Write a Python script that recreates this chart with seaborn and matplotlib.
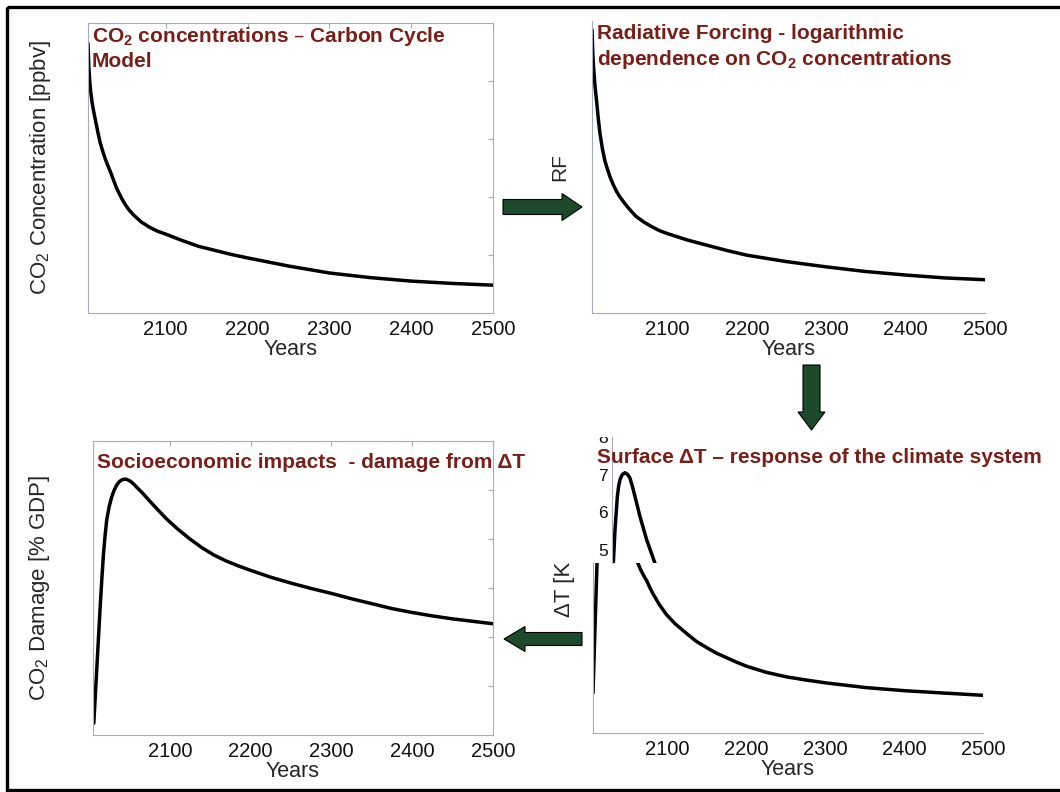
import matplotlib
matplotlib.use("Agg")
import matplotlib.pyplot as plt
import matplotlib.patches as mpatches
from matplotlib.transforms import Affine2D, Bbox, TransformedBbox
import seaborn as sns

# --- data ---
co2_years = [2005, 2006, 2007, 2008, 2010, 2012, 2014, 2017, 2020, 2023, 2026, 2029,
             2032, 2036, 2040, 2046, 2050, 2055, 2060, 2070, 2080, 2090, 2100, 2120,
             2140, 2160, 2180, 2200, 2225, 2250, 2275, 2300, 2350, 2400, 2450, 2500]
co2_vals = [4.65, 4.25, 4.02, 3.85, 3.63, 3.47, 3.33, 3.12, 2.93, 2.79, 2.66, 2.55,
            2.45, 2.30, 2.15, 1.98, 1.88, 1.78, 1.70, 1.57, 1.48, 1.41, 1.36, 1.25,
            1.15, 1.08, 1.01, 0.95, 0.88, 0.81, 0.75, 0.69, 0.61, 0.55, 0.51, 0.48]

rf_years = [2005, 2006, 2007, 2009, 2011, 2013, 2015, 2018, 2021, 2024, 2028, 2032,
            2036, 2040, 2046, 2052, 2060, 2070, 2080, 2090, 2100, 2125, 2150, 2175,
            2200, 2250, 2300, 2350, 2400, 2450, 2500]
rf_vals = [4.85, 4.45, 4.20, 3.86, 3.60, 3.32, 3.08, 2.82, 2.62, 2.48, 2.32, 2.19,
           2.08, 1.99, 1.88, 1.78, 1.66, 1.56, 1.48, 1.41, 1.36, 1.25, 1.16, 1.07,
           0.99, 0.88, 0.79, 0.71, 0.65, 0.60, 0.57]

# surface temperature: early rise, later decline (lower box) and the peak (inset)
dt_rise_years = [2006, 2008, 2010, 2012]
dt_rise_vals = [1.05, 1.72, 2.38, 3.05]
dt_fall_years = [2062, 2066, 2070, 2074, 2078, 2082, 2090, 2099, 2110, 2125, 2137,
                 2150, 2162, 2175, 2188, 2200, 2225, 2251, 2275, 2302, 2327, 2352,
                 2376, 2401, 2425, 2449, 2475, 2500]
dt_fall_vals = [2.76, 2.66, 2.58, 2.51, 2.42, 2.34, 2.20, 2.07, 1.95, 1.82, 1.72,
                1.64, 1.57, 1.51, 1.45, 1.40, 1.32, 1.26, 1.22, 1.18, 1.15, 1.12,
                1.10, 1.08, 1.065, 1.05, 1.035, 1.02]
dt_peak_years = [2031.7, 2033.8, 2036.8, 2038.5, 2040.2, 2043.0, 2046.5, 2050.0,
                 2052.8, 2056.0, 2059.2, 2065.5, 2074.0, 2084.5]
dt_peak_vals = [4.65, 5.53, 6.42, 6.70, 6.87, 7.00, 7.05, 7.00, 6.91, 6.68, 6.42,
                5.89, 5.27, 4.65]
dt_peak_ticks = [5, 6, 7, 8]

dmg_years = [2006, 2007, 2008, 2010, 2012, 2014, 2016, 2018, 2020, 2022, 2025, 2028,
             2031, 2034, 2037, 2040, 2043, 2046, 2049, 2052, 2056, 2060, 2065, 2070,
             2076, 2085, 2096, 2110, 2125, 2140, 2155, 2170, 2185, 2200, 2225, 2250,
             2275, 2300, 2325, 2350, 2375, 2400, 2425, 2450, 2475, 2500]
dmg_vals = [0.24, 0.55, 0.85, 1.45, 2.05, 2.65, 3.20, 3.70, 4.08, 4.39, 4.66, 4.85,
            4.99, 5.09, 5.16, 5.20, 5.22, 5.22, 5.20, 5.17, 5.11, 5.04, 4.96, 4.87,
            4.76, 4.60, 4.41, 4.20, 4.00, 3.82, 3.67, 3.55, 3.45, 3.36, 3.22, 3.10,
            2.99, 2.89, 2.78, 2.68, 2.58, 2.50, 2.43, 2.37, 2.32, 2.27]

year_ticks = [2100, 2200, 2300, 2400, 2500]

# --- style ---
W, H = 1060, 792
TITLE_COLOR = "#7a1e18"
SPINE_COLOR = "#a3abbd"
ARROW_COLOR = "#1e4a2c"
LINE_W = 2.5

sns.set_style("white")
plt.rcParams["font.family"] = ["Liberation Sans", "DejaVu Sans"]
plt.rcParams["mathtext.default"] = "regular"

fig = plt.figure(figsize=(W / 100, H / 100), dpi=100)
fig.patch.set_facecolor("white")
# pixel coordinates measured from the top-left corner
PX = Affine2D().scale(1, -1).translate(0, H).scale(1 / W, 1 / H) + fig.transFigure


def px_axes(x0, y0, x1, y1):
    return fig.add_axes([x0 / W, 1 - y1 / H, (x1 - x0) / W, (y1 - y0) / H])


def px_clip(x0, y0, x1, y1):
    # clip box given in top-left pixel coordinates
    return TransformedBbox(Bbox.from_extents(x0 / W, 1 - y1 / H, x1 / W, 1 - y0 / H),
                           fig.transFigure)


def style(ax, box):
    for side, sp in ax.spines.items():
        sp.set_color(SPINE_COLOR)
        sp.set_linewidth(0.8)
        if side in ("top", "right"):
            sp.set_visible(box)
    ax.tick_params(direction="in", length=3.5, width=0.8, color=SPINE_COLOR,
                   labelsize=14.5, pad=5, labelcolor="#111111",
                   top=box, right=box, labelleft=False)
    ax.set_xticks(year_ticks)
    ax.set_xlabel("Years", fontsize=15.5, labelpad=0)


def title(x, y, text):
    # y is the baseline of the last line
    fig.text(x, y, text, transform=PX, fontsize=15, fontweight="bold",
             color=TITLE_COLOR, va="baseline", ha="left", linespacing=1.3)


# panel 1: CO2 concentrations
ax1 = px_axes(88, 23, 493, 313)
sns.lineplot(x=co2_years, y=co2_vals, ax=ax1, color="black", linewidth=LINE_W)
ax1.set_xlim(2005, 2500)
ax1.set_ylim(0, 5)
ax1.set_yticks([1, 2, 3, 4])
style(ax1, True)
ax1.set_ylabel("CO$_2$ Concentration [ppbv]", fontsize=16, va="center")
ax1.yaxis.set_label_coords(-0.1185, 0.5)

# panel 2: radiative forcing
ax2 = px_axes(592, 21, 985, 313)
sns.lineplot(x=rf_years, y=rf_vals, ax=ax2, color="black", linewidth=LINE_W)
ax2.set_xlim(2005, 2500)
ax2.set_ylim(0, 5)
ax2.set_yticks([1, 2, 3, 4])
style(ax2, False)
ax2.set_ylabel("RF", fontsize=15, va="center")
ax2.yaxis.set_label_coords(-0.0814, 0.5)

# panel 4: damage
ax4 = px_axes(93, 441, 493, 735)
sns.lineplot(x=dmg_years, y=dmg_vals, ax=ax4, color="black", linewidth=LINE_W)
ax4.set_xlim(2005, 2500)
ax4.set_ylim(0, 6)
ax4.set_yticks([1, 2, 3, 4, 5])
style(ax4, True)
ax4.set_ylabel("CO$_2$ Damage [% GDP]", fontsize=16, va="center")
ax4.yaxis.set_label_coords(-0.1325, 0.5)

# panel 3: surface temperature (lower box + pasted peak)
ax3 = px_axes(593, 563, 983, 733)
sns.lineplot(x=dt_rise_years, y=dt_rise_vals, ax=ax3, color="black", linewidth=LINE_W)
sns.lineplot(x=dt_fall_years, y=dt_fall_vals, ax=ax3, color="black", linewidth=LINE_W)
ax3.set_xlim(2006, 2500)
ax3.set_ylim(0.53, 2.74)
ax3.set_yticks([1, 2])
style(ax3, False)
lab = ax3.set_ylabel("ΔT [K]", fontsize=16, va="center")
ax3.yaxis.set_label_coords(-0.0718, 0.862)
lab.set_clip_box(px_clip(0, 563, 593, H))
lab.set_clip_on(True)

ax3b = px_axes(612, 437, 660, 563)
sns.lineplot(x=dt_peak_years, y=dt_peak_vals, ax=ax3b, color="black", linewidth=LINE_W)
ax3b.set_xlim(2030, 2091)
ax3b.set_ylim(4.65, 8.0)
ax3b.set_yticks(dt_peak_ticks)
ax3b.set_xticks([])
ax3b.patch.set_visible(False)
for side, sp in ax3b.spines.items():
    sp.set_visible(side == "left")
    sp.set_color(SPINE_COLOR)
    sp.set_linewidth(0.8)
ax3b.tick_params(axis="y", direction="in", length=3, width=0.8, color=SPINE_COLOR,
                 labelsize=12.5, pad=3, labelcolor="#111111")
ax3b.set_xlabel("")
ax3b.set_ylabel("")
# the top label of the pasted piece is cut in half in the source
for t in ax3b.get_yticklabels():
    t.set_clip_box(px_clip(560, 437, 700, H))
    t.set_clip_on(True)

# titles
title(92, 67, "CO$_2$ concentrations – Carbon Cycle\nModel")
title(597, 65, "Radiative Forcing - logarithmic\ndependence on CO$_2$ concentrations")
title(597, 463, "Surface ΔT – response of the climate system")
title(97, 468, "Socioeconomic impacts  - damage from ΔT")

# arrows between the panels
arrow_kw = dict(transform=PX, length_includes_head=True, facecolor=ARROW_COLOR,
                edgecolor="black", linewidth=0.8)
fig.add_artist(mpatches.FancyArrow(503, 207, 79, 0, width=15, head_width=27,
                                   head_length=20, **arrow_kw))
fig.add_artist(mpatches.FancyArrow(811.5, 365, 0, 65, width=17, head_width=27,
                                   head_length=18, **arrow_kw))
fig.add_artist(mpatches.FancyArrow(582, 639, -78, 0, width=13, head_width=25,
                                   head_length=21, **arrow_kw))

# outer frame
fig.add_artist(mpatches.Rectangle((6.5, 6.5), 1070, 783, transform=PX, fill=False,
                                  edgecolor="black", linewidth=2.4))

fig.savefig("out.png", dpi=100)
